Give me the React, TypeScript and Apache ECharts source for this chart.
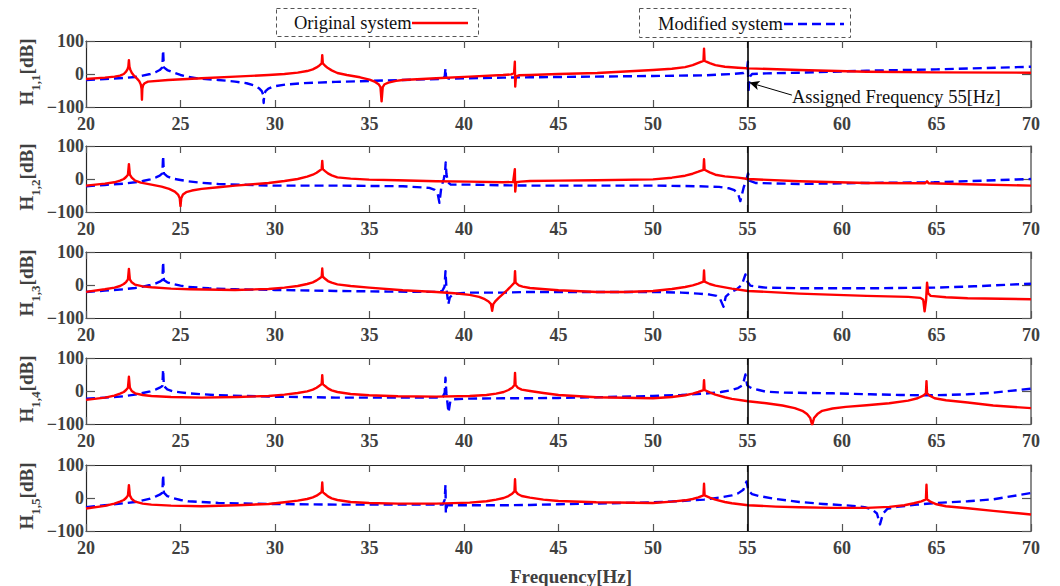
import React, { useEffect, useRef } from 'react';
import * as echarts from 'echarts';

// ---------- data ----------
const SERIES_NAMES = ['Original system', 'Modified system'];
const PANEL_SUBS = ['1,1', '1,2', '1,3', '1,4', '1,5'];
const X_MIN = 20;
const X_MAX = 70;
const X_STEP = 5;
const Y_MIN = -100;
const Y_MAX = 100;
const Y_STEP = 100;
const X_NAME = 'Frequency[Hz]';
const ASSIGNED_FREQ = 55;
const ANNOT_TEXT = 'Assigned Frequency 55[Hz]';
const ANNOT_FROM = [57.35, -64];
const ANNOT_TO = [55.1, -26];

const orig11 = [[20,-15],[21,-11],[21.51,-8],[21.8,-5],[22.0,0],[22.12,7],[22.2,15],[22.24,22],[22.27,42],[22.3,22],[22.34,14],[22.42,4],[22.55,-6],[22.7,-14],[22.82,-22],[22.9,-32],[22.94,-45],[22.96,-78],[22.98,-45],[23.02,-34],[23.1,-28],[23.28,-23],[24.34,-18],[26.12,-13],[27.89,-8],[29.66,-3],[30.5,0],[31.2,4],[31.7,9],[32.0,14],[32.2,20],[32.35,26],[32.47,32],[32.5,57],[32.53,32],[32.65,25],[32.8,18],[33.0,11],[33.3,3],[33.8,-3],[34.5,-10],[35.0,-17],[35.3,-24],[35.48,-31],[35.58,-40],[35.64,-83],[35.7,-40],[35.8,-31],[36.0,-26],[36.4,-21],[36.76,-18],[38.53,-13],[40.3,-8],[42.07,-3],[42.5,-1],[42.65,3],[42.69,37],[42.71,-38],[42.75,-7],[42.9,-4],[43.49,-3],[45,0],[47.05,3],[50,12],[51,16],[51.7,21],[52.1,27],[52.4,34],[52.67,40],[52.7,77],[52.73,40],[53.0,33],[53.3,27],[53.8,22],[54.5,19],[55.07,17],[57.74,12],[61.3,7],[65,5],[70,4]];
const mod11 = [[20,-18],[21,-15],[22.0,-12],[22.6,-9],[23.0,-5],[23.4,0],[23.7,6],[23.9,12],[24.04,20],[24.08,72],[24.12,20],[24.3,12],[24.6,5],[25.0,-3],[25.41,-9],[26,-14],[27,-18],[27.89,-23],[28.5,-28],[28.9,-35],[29.15,-43],[29.3,-52],[29.37,-62],[29.4,-88],[29.43,-62],[29.5,-52],[29.65,-44],[29.9,-38],[30.55,-32],[31.44,-28],[33.21,-24],[34.98,-21],[36.76,-18],[38.8,-15],[38.98,-8],[39.02,17],[39.05,-10],[39.2,-14],[40.3,-13],[42.07,-11],[43.49,-10],[45,-9],[50,-6],[52.7,-4],[54.17,0],[54.8,3],[54.97,10],[55.02,37],[55.05,-58],[55.1,-10],[55.24,0],[56,2],[57.74,4],[61.3,10],[65,14],[70,22]];

const orig12 = [[20,-20],[21,-14],[21.5,-10],[21.8,-5],[22.0,0],[22.12,6],[22.22,13],[22.27,45],[22.32,13],[22.42,4],[22.6,-5],[22.9,-11],[23.46,-17],[24.0,-23],[24.4,-30],[24.7,-38],[24.87,-47],[24.96,-58],[25.0,-82],[25.04,-58],[25.13,-47],[25.3,-40],[25.6,-35],[26.12,-30],[27.0,-25],[27.89,-20],[29.0,-15],[29.66,-12],[30.5,-6],[31.2,0],[31.7,7],[32.0,13],[32.2,19],[32.35,25],[32.47,30],[32.5,55],[32.53,30],[32.65,24],[32.8,17],[33.0,11],[33.3,5],[34.0,1],[34.98,-2],[36.5,-4],[38.53,-7],[40.3,-8],[42.07,-10],[42.6,-9],[42.69,30],[42.71,-38],[42.76,-10],[43.0,-8],[43.49,-6],[45,-5],[47,-4],[50,-1],[51,4],[51.7,10],[52.1,16],[52.4,22],[52.67,28],[52.7,60],[52.73,28],[53.0,20],[53.3,13],[53.8,8],[54.5,4],[55.03,0],[57.74,-7],[61.3,-12],[64.4,-13],[64.5,-7],[64.58,-13],[66.65,-16],[70,-20]];
const mod12 = [[20,-22],[21,-18],[22,-14],[22.6,-10],[23.0,-6],[23.4,-1],[23.7,5],[23.9,10],[24.04,17],[24.08,70],[24.12,17],[24.3,8],[24.6,1],[25.0,-3],[25.41,-7],[26,-11],[27,-15],[29.66,-20],[33.21,-20],[36.76,-22],[38.17,-27],[38.45,-33],[38.6,-42],[38.7,-72],[38.8,-25],[38.93,0],[39.0,20],[39.03,50],[39.07,15],[39.15,-10],[39.3,-17],[40.3,-17],[42.07,-19],[43.49,-20],[50,-20],[52.4,-22],[53.5,-24],[54.0,-28],[54.3,-34],[54.5,-44],[54.62,-67],[54.8,-25],[54.95,0],[55.03,17],[55.1,-5],[55.42,-12],[57.74,-15],[61.3,-12],[64.86,-10],[70,0]];

const orig13 = [[20,-21],[21,-13],[21.51,-8],[21.8,-3],[22.0,3],[22.12,9],[22.22,17],[22.27,49],[22.32,17],[22.42,8],[22.6,1],[23.0,-4],[23.46,-7],[24.5,-11],[25.5,-13],[27.89,-15],[29.66,-12],[30.5,-8],[31.2,-3],[31.7,3],[32.0,8],[32.2,14],[32.35,20],[32.47,25],[32.5,50],[32.53,25],[32.65,19],[32.8,12],[33.0,7],[33.3,2],[34.0,-3],[34.98,-8],[36.76,-16],[38.53,-21],[39.5,-25],[40.3,-30],[40.8,-36],[41.1,-43],[41.3,-50],[41.43,-58],[41.49,-78],[41.55,-58],[41.68,-48],[41.85,-38],[42.07,-27],[42.3,-15],[42.5,-3],[42.67,7],[42.7,42],[42.73,7],[42.9,-1],[43.1,-5],[43.49,-9],[44.3,-13],[45,-16],[47.05,-21],[48.5,-21],[50,-18],[51,-12],[51.7,-6],[52.1,-1],[52.4,4],[52.67,10],[52.7,44],[52.73,10],[53.0,3],[53.3,-2],[53.8,-7],[54.17,-11],[55.03,-18],[57.74,-26],[61.3,-33],[63.5,-36],[64.15,-39],[64.3,-45],[64.37,-80],[64.45,-45],[64.5,7],[64.56,-25],[64.69,-33],[65.5,-37],[66.65,-40],[70,-43]];
const mod13 = [[20,-21],[21,-17],[22,-13],[22.6,-9],[23.0,-5],[23.4,0],[23.7,5],[23.9,10],[24.04,15],[24.08,70],[24.12,15],[24.3,8],[24.6,3],[25.0,-2],[25.41,-6],[26.5,-10],[27.89,-13],[30,-15],[33.21,-18],[36,-20],[38.53,-21],[38.85,-18],[38.97,-5],[39.02,42],[39.07,-10],[39.17,-58],[39.25,-38],[39.41,-28],[39.8,-25],[40.3,-23],[42.07,-23],[43.49,-21],[50,-21],[51.5,-23],[52.39,-26],[53.0,-29],[53.37,-33],[53.55,-42],[53.73,-66],[53.85,-35],[54.1,-22],[54.4,-14],[54.7,0],[54.89,32],[55.0,10],[55.15,-2],[55.5,-5],[55.96,-8],[58,-10],[61.3,-10],[64.86,-8],[67,-4],[70,4]];

const orig14 = [[20,-27],[21,-20],[21.5,-14],[21.8,-8],[22.0,-3],[22.12,3],[22.22,10],[22.27,43],[22.32,10],[22.42,0],[22.6,-7],[23.0,-12],[23.46,-15],[24.5,-18],[26.12,-20],[28,-18],[29.66,-15],[30.5,-11],[31.2,-6],[31.7,-1],[32.0,4],[32.2,10],[32.35,16],[32.47,21],[32.5,48],[32.53,21],[32.65,15],[32.8,8],[33.0,2],[33.3,-3],[34.0,-9],[34.98,-13],[36.5,-16],[38.53,-17],[40.3,-15],[41.19,-12],[41.7,-8],[42.1,-3],[42.35,3],[42.55,10],[42.67,18],[42.7,55],[42.73,18],[42.85,10],[43.05,4],[43.49,0],[44.2,-6],[45,-12],[47,-19],[50,-22],[51,-18],[51.7,-13],[52.1,-8],[52.4,-3],[52.67,3],[52.7,33],[52.73,3],[53.0,-4],[53.3,-11],[53.8,-19],[54.17,-24],[55.03,-31],[56.0,-37],[56.85,-44],[57.5,-52],[57.9,-60],[58.15,-70],[58.32,-82],[58.42,-103],[58.52,-82],[58.7,-70],[58.95,-60],[59.5,-53],[60.2,-48],[61.3,-43],[62.5,-37],[63.5,-29],[64.0,-22],[64.3,-14],[64.44,-7],[64.47,30],[64.5,-7],[64.64,-14],[64.9,-22],[65.5,-28],[66.65,-35],[68,-44],[70,-52]];
const mod14 = [[20,-23],[21,-20],[22,-16],[22.6,-11],[23.0,-6],[23.4,-1],[23.7,5],[23.9,10],[24.04,15],[24.08,65],[24.12,15],[24.3,5],[24.6,-1],[25.0,-4],[25.41,-7],[27,-13],[29.66,-17],[33.21,-20],[38.53,-20],[38.88,-17],[38.98,-5],[39.02,40],[39.07,-8],[39.18,-65],[39.28,-30],[39.41,-25],[40.3,-23],[42.07,-22],[43.49,-22],[45,-21],[47,-19],[50,-15],[51.5,-12],[52.7,-8],[53.6,-3],[54.17,3],[54.5,9],[54.75,18],[54.89,50],[54.98,18],[55.1,12],[55.24,8],[55.6,3],[55.96,-2],[57,-5],[59.52,-7],[61.5,-10],[63.08,-12],[64.47,-13],[65.5,-12],[66.65,-10],[68,-5],[70,7]];

const orig15 = [[20,-32],[21,-24],[21.5,-17],[21.8,-11],[22.0,-6],[22.12,0],[22.22,8],[22.27,39],[22.32,8],[22.42,-3],[22.6,-11],[23.0,-17],[23.46,-20],[24.5,-23],[26.12,-25],[28,-22],[29.66,-18],[30.5,-13],[31.2,-8],[31.7,-3],[32.0,2],[32.2,7],[32.35,13],[32.47,18],[32.5,47],[32.53,18],[32.65,12],[32.8,5],[33.0,-1],[33.3,-6],[34.0,-12],[34.98,-15],[36.5,-17],[38.53,-17],[40.3,-14],[41.19,-10],[41.7,-5],[42.1,0],[42.35,6],[42.55,13],[42.67,20],[42.7,57],[42.73,20],[42.85,12],[43.05,6],[43.49,1],[44.2,-5],[45,-9],[47,-13],[50,-15],[51,-11],[51.7,-7],[52.1,-3],[52.4,2],[52.67,8],[52.7,43],[52.73,8],[53.0,1],[53.3,-5],[53.8,-12],[54.17,-16],[55.03,-22],[56.5,-26],[57.74,-28],[59.5,-30],[61.3,-30],[62.5,-27],[63.3,-22],[63.8,-16],[64.2,-10],[64.44,-4],[64.47,40],[64.5,-4],[64.7,-12],[65.0,-19],[65.5,-25],[66.65,-31],[68,-39],[70,-50]];
const mod15 = [[20,-28],[21,-22],[22,-16],[22.6,-12],[23.0,-7],[23.4,-2],[23.7,5],[23.9,10],[24.04,16],[24.08,70],[24.12,16],[24.3,6],[24.6,0],[25.0,-6],[25.41,-10],[27,-15],[29.66,-18],[33.21,-20],[38.88,-20],[38.98,-5],[39.02,40],[39.04,-45],[39.1,-22],[39.24,-22],[42.07,-22],[43.49,-21],[45,-19],[47,-17],[50,-13],[51.5,-9],[52.7,-5],[53.6,2],[54.17,8],[54.5,14],[54.78,25],[54.95,50],[55.05,22],[55.24,12],[55.6,6],[56.5,-3],[57.74,-12],[59,-18],[60.41,-23],[61.2,-28],[61.6,-35],[61.85,-47],[62.01,-80],[62.17,-47],[62.4,-33],[62.9,-27],[63.97,-20],[65,-15],[66.65,-10],[68,-4],[70,15]];

const ORIGINAL = [orig11, orig12, orig13, orig14, orig15];
const MODIFIED = [mod11, mod12, mod13, mod14, mod15];

// ---------- layout / style ----------
const W = 1060;
const H = 586;
const GRID_LEFT = 86;
const GRID_RIGHT = 29;
const GRID_TOPS = [41, 146, 252, 358, 465];
const GRID_H = 66;
const SERIF = '"Liberation Serif", "Times New Roman", serif';
const RED = '#ff0000';
const BLUE = '#0000ff';
const AXIS_DARK = '#262626';
const LABEL_COLOR = '#404040';

export default function App() {
  const ref = useRef<HTMLDivElement>(null);

  useEffect(() => {
    document.body.style.margin = '0';
    const chart = echarts.init(ref.current!, null, { renderer: 'svg' });

    const grids: any[] = [];
    const xAxes: any[] = [];
    const yAxes: any[] = [];
    const series: any[] = [];
    const graphics: any[] = [];

    GRID_TOPS.forEach((top, i) => {
      grids.push({ left: GRID_LEFT, right: GRID_RIGHT, top, height: GRID_H, containLabel: false });
      const xCommon = {
        type: 'value', gridIndex: i, min: X_MIN, max: X_MAX, interval: X_STEP,
        splitLine: { show: false },
        axisTick: { inside: true, length: 7, lineStyle: { color: '#555', width: 1.2 } },
      };
      xAxes.push({
        ...xCommon, position: 'bottom',
        axisLine: { show: true, onZero: false, lineStyle: { color: AXIS_DARK, width: 1.2 } },
        axisLabel: { show: true, fontFamily: SERIF, fontWeight: 'bold', fontSize: 18, color: LABEL_COLOR, margin: 8 },
      });
      xAxes.push({
        ...xCommon, position: 'top',
        axisLine: { show: true, onZero: false, lineStyle: { color: AXIS_DARK, width: 1.2 } },
        axisLabel: { show: false },
      });
      const yCommon = {
        type: 'value', gridIndex: i, min: Y_MIN, max: Y_MAX, interval: Y_STEP,
        splitLine: { show: false },
        axisTick: { inside: true, length: 9, lineStyle: { color: '#555', width: 1.2 } },
      };
      yAxes.push({
        ...yCommon, position: 'left',
        axisLine: { show: true, onZero: false, lineStyle: { color: AXIS_DARK, width: 1.2 } },
        axisLabel: {
          show: true, fontFamily: SERIF, fontWeight: 'bold', fontSize: 18, color: LABEL_COLOR, margin: 2,
          formatter: (v: number) => (v < 0 ? '\u2212' + Math.abs(v) : String(v)),
        },
      });
      yAxes.push({
        ...yCommon, position: 'right',
        axisLine: { show: true, onZero: false, lineStyle: { color: '#666', width: 1.5 } },
        axisLabel: { show: false },
      });

      series.push({
        name: SERIES_NAMES[1], type: 'line', xAxisIndex: 2 * i, yAxisIndex: 2 * i,
        data: MODIFIED[i], showSymbol: false, symbol: 'none', z: 2,
        lineStyle: { color: BLUE, width: 2.4, type: [9, 5], join: 'round' },
        markLine: i === 0 ? {
          silent: true, symbol: ['none', 'arrow'], symbolSize: [7, 10],
          label: { show: false },
          lineStyle: { color: '#000', width: 1, type: 'solid' },
          data: [[{ coord: ANNOT_FROM }, { coord: ANNOT_TO }]],
        } : undefined,
      });
      series.push({
        name: SERIES_NAMES[0], type: 'line', xAxisIndex: 2 * i, yAxisIndex: 2 * i,
        data: ORIGINAL[i], showSymbol: false, symbol: 'none', z: 3,
        lineStyle: { color: RED, width: 2.4, type: 'solid', join: 'round' },
        markLine: {
          silent: true, symbol: ['none', 'none'], label: { show: false },
          lineStyle: { color: '#000', width: 1.6, type: 'solid' },
          data: [{ xAxis: ASSIGNED_FREQ }],
        },
      });

      // y-axis name with subscript
      graphics.push({
        type: 'text',
        x: 28, y: top + GRID_H / 2 - 2,
        rotation: Math.PI / 2,
        style: {
          text: '{m|H}{s|' + PANEL_SUBS[i] + '}{m|[dB]}',
          align: 'center', verticalAlign: 'middle',
          rich: {
            m: { fontFamily: SERIF, fontWeight: 'bold', fontSize: 19, lineHeight: 22, verticalAlign: 'top', fill: LABEL_COLOR },
            s: { fontFamily: SERIF, fontWeight: 'bold', fontSize: 13, lineHeight: 14, padding: [12, 0, 0, 0], verticalAlign: 'top', fill: LABEL_COLOR },
          },
        },
      });
    });

    // legends
    graphics.push(
      { type: 'rect', shape: { x: 276.5, y: 8.5, width: 202, height: 28 }, style: { fill: 'none', stroke: '#555', lineWidth: 1, lineDash: [4, 3] } },
      { type: 'text', x: 294, y: 23, style: { text: SERIES_NAMES[0], fontFamily: SERIF, fontSize: 18.5, fill: '#111', verticalAlign: 'middle', align: 'left' } },
      { type: 'line', shape: { x1: 412, y1: 23, x2: 468, y2: 23 }, style: { stroke: RED, lineWidth: 2.4 } },
      { type: 'rect', shape: { x: 639.5, y: 8.5, width: 211, height: 29 }, style: { fill: 'none', stroke: '#555', lineWidth: 1, lineDash: [4, 3] } },
      { type: 'text', x: 658, y: 24, style: { text: SERIES_NAMES[1], fontFamily: SERIF, fontSize: 18.5, fill: '#111', verticalAlign: 'middle', align: 'left' } },
      { type: 'line', shape: { x1: 784, y1: 24, x2: 844, y2: 24 }, style: { stroke: BLUE, lineWidth: 2.4, lineDash: [9, 5] } },
    );
    // annotation
    graphics.push({ type: 'text', x: 792, y: 97, z: 10, style: { text: ANNOT_TEXT, fontFamily: SERIF, fontSize: 18.5, fill: '#111', verticalAlign: 'middle', align: 'left' } });
    // x name
    graphics.push({ type: 'text', x: 571, y: 576, style: { text: X_NAME, fontFamily: SERIF, fontWeight: 'bold', fontSize: 19, fill: LABEL_COLOR, verticalAlign: 'middle', align: 'center' } });

    chart.setOption({
      animation: false,
      backgroundColor: '#ffffff',
      grid: grids,
      xAxis: xAxes,
      yAxis: yAxes,
      series,
      graphic: graphics,
    });

    return () => chart.dispose();
  }, []);

  return <div ref={ref} style={{ width: W, height: H }} />;
}
